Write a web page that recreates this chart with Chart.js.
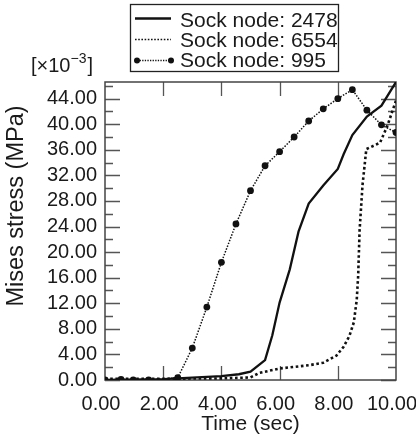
<!DOCTYPE html>
<html>
<head>
<meta charset="utf-8">
<script src="https://cdn.jsdelivr.net/npm/chart.js@4.4.0/dist/chart.umd.min.js"></script>
<style>
  html, body { margin: 0; padding: 0; background: #fff; }
  #chart { display: block; }
</style>
</head>
<body>
<canvas id="chart" width="416" height="441"></canvas>
<script>
// series (stress in units of 1e-3 MPa)
const seriesNames = ['Sock node: 2478', 'Sock node: 6554', 'Sock node: 995'];

const time2478 = [0, 2.0, 4.0, 4.6, 5.0, 5.5, 5.75, 6.0, 6.35, 6.65, 7.0, 7.5, 8.0, 8.2, 8.5, 9.0, 9.5, 10.0];
const stress2478 = [0, 0.15, 0.6, 0.9, 1.3, 3.1, 7.0, 12.1, 17.3, 23.2, 27.6, 30.4, 33.0, 35.3, 38.3, 41.2, 42.9, 46.6];

const time6554 = [0, 2.0, 4.0, 5.0, 5.3, 6.0, 7.0, 7.5, 7.95, 8.2, 8.4, 8.55, 8.65, 8.7, 8.75, 8.85, 8.98, 9.45, 9.7, 10.0];
const stress6554 = [0.2, 0.2, 0.25, 0.4, 1.1, 1.8, 2.3, 2.7, 3.8, 5.2, 6.9, 9.0, 12.5, 16.3, 23.5, 30.5, 36.1, 37.1, 39.7, 43.7];

const time995 = [0, 0.55, 0.97, 1.5, 2.5, 3.0, 3.5, 4.0, 4.5, 5.0, 5.5, 6.0, 6.5, 7.0, 7.5, 8.0, 8.5, 9.0, 9.5, 10.0];
const stress995 = [0, 0.1, 0, 0, 0.35, 5.0, 11.4, 18.4, 24.4, 29.6, 33.5, 35.7, 38.0, 40.5, 42.4, 44.0, 45.4, 42.2, 39.9, 38.7];

const xTicks = [0, 2, 4, 6, 8, 10];
const yTicks = [0, 4, 8, 12, 16, 20, 24, 28, 32, 36, 40, 44];
const yMinorTicks = [2, 6, 10, 14, 18, 22, 26, 30, 34, 38, 42, 46];

const FONT = "'Liberation Sans', Arial, Helvetica, sans-serif";
const INK = '#1a1a1a';

function toPoints(xs, ys) {
    return xs.map((x, i) => ({ x: x, y: ys[i] }));
}

// box, inward ticks
const framePlugin = {
    id: 'frame',
    beforeDatasetsDraw(chart) {
        const ctx = chart.ctx;
        const a = chart.chartArea;
        const xs = chart.scales.x;
        const ys = chart.scales.y;
        ctx.save();
        ctx.strokeStyle = '#555';
        ctx.lineWidth = 1.3;
        yTicks.forEach(v => {
            const py = Math.round(ys.getPixelForValue(v)) + 0.5;
            ctx.beginPath();
            ctx.moveTo(a.left, py); ctx.lineTo(a.left + 15, py);
            ctx.moveTo(a.right, py); ctx.lineTo(a.right - 15, py);
            ctx.stroke();
        });
        yMinorTicks.forEach(v => {
            const py = Math.round(ys.getPixelForValue(v)) + 0.5;
            ctx.beginPath();
            ctx.moveTo(a.left, py); ctx.lineTo(a.left + 8, py);
            ctx.moveTo(a.right, py); ctx.lineTo(a.right - 8, py);
            ctx.stroke();
        });
        xTicks.slice(1, -1).forEach(v => {
            const px = Math.round(xs.getPixelForValue(v)) + 0.5;
            ctx.beginPath();
            ctx.moveTo(px, a.bottom); ctx.lineTo(px, a.bottom - 14);
            ctx.moveTo(px, a.top); ctx.lineTo(px, a.top + 14);
            ctx.stroke();
        });
        ctx.strokeStyle = '#444';
        ctx.lineWidth = 1.5;
        ctx.strokeRect(a.left, a.top, a.right - a.left, a.bottom - a.top);
        ctx.restore();
    },
    afterDraw(chart) {
        const ctx = chart.ctx;
        const ds = chart.data.datasets;
        ctx.save();

        // y axis title
        ctx.fillStyle = INK;
        ctx.font = '23.5px ' + FONT;
        ctx.textAlign = 'center';
        ctx.textBaseline = 'middle';
        ctx.translate(17, 206);
        ctx.rotate(-Math.PI / 2);
        ctx.fillText('Mises stress (MPa)', 0, 0);
        ctx.setTransform(1, 0, 0, 1, 0, 0);

        // exponent note
        ctx.textAlign = 'left';
        ctx.textBaseline = 'alphabetic';
        let x = 31;
        ctx.font = '20px ' + FONT;
        ctx.fillText('[\u00d710', x, 72);
        x += ctx.measureText('[\u00d710').width;
        ctx.font = '14px ' + FONT;
        ctx.fillText('\u22123', x, 63);
        x += ctx.measureText('\u22123').width;
        ctx.font = '20px ' + FONT;
        ctx.fillText(']', x + 1, 72);

        // legend
        ctx.strokeStyle = '#222';
        ctx.lineWidth = 1.3;
        ctx.strokeRect(130.5, 4.5, 208, 67);
        const rows = [18.5, 39.5, 60.5];
        const textRows = [26.7, 46.7, 66.7];
        ctx.font = '21px ' + FONT;
        ctx.fillStyle = INK;
        textRows.forEach((ty, i) => {
            ctx.fillText(seriesNames[i], 180, ty);
        });
        // solid
        ctx.setLineDash([]);
        ctx.strokeStyle = ds[0].borderColor;
        ctx.lineWidth = 2.5;
        ctx.beginPath(); ctx.moveTo(135, rows[0]); ctx.lineTo(171, rows[0]); ctx.stroke();
        // dotted
        ctx.strokeStyle = ds[1].borderColor;
        ctx.lineWidth = 1.6;
        ctx.setLineDash([1.6, 1.6]);
        ctx.beginPath(); ctx.moveTo(135, rows[1]); ctx.lineTo(171, rows[1]); ctx.stroke();
        // dotted with markers
        ctx.strokeStyle = ds[2].borderColor;
        ctx.lineWidth = 1.3;
        ctx.setLineDash([1.3, 1.3]);
        ctx.beginPath(); ctx.moveTo(137, rows[2]); ctx.lineTo(171, rows[2]); ctx.stroke();
        ctx.setLineDash([]);
        ctx.fillStyle = ds[2].pointBackgroundColor;
        [137, 171].forEach(px => {
            ctx.beginPath(); ctx.arc(px, rows[2], 3, 0, Math.PI * 2); ctx.fill();
        });
        ctx.restore();
    }
};

const chart = new Chart(document.getElementById('chart').getContext('2d'), {
    type: 'line',
    data: {
        datasets: [
            {
                label: seriesNames[0],
                data: toPoints(time2478, stress2478),
                borderColor: '#111',
                borderWidth: 2.3,
                pointRadius: 0,
                tension: 0
            },
            {
                label: seriesNames[1],
                data: toPoints(time6554, stress6554),
                borderColor: '#111',
                borderWidth: 2.6,
                borderDash: [2.6, 2.6],
                pointRadius: 0,
                tension: 0
            },
            {
                label: seriesNames[2],
                data: toPoints(time995, stress995),
                borderColor: '#111',
                borderWidth: 1.5,
                borderDash: [1.5, 1.5],
                pointRadius: 3.4,
                pointBackgroundColor: '#111',
                pointBorderWidth: 0,
                tension: 0
            }
        ]
    },
    options: {
        responsive: false,
        animation: false,
        events: [],
        layout: { padding: { top: 82, right: 20, left: 0, bottom: 0 } },
        plugins: {
            legend: { display: false },
            tooltip: { enabled: false }
        },
        scales: {
            x: {
                type: 'linear',
                min: 0,
                max: 10,
                afterBuildTicks: s => { s.ticks = xTicks.map(v => ({ value: v })); },
                ticks: {
                    callback: v => v.toFixed(2),
                    font: { size: 20, family: FONT },
                    color: INK,
                    padding: 12,
                    labelOffset: -4,
                    maxRotation: 0,
                    autoSkip: false
                },
                grid: { display: false, drawTicks: false },
                border: { display: false },
                title: {
                    display: true,
                    text: 'Time (sec)',
                    font: { size: 21, family: FONT },
                    color: INK,
                    padding: { top: 0, bottom: 4 }
                },
                afterFit: s => { s.height = 61; s.paddingLeft = 0; s.paddingRight = 0; }
            },
            y: {
                type: 'linear',
                min: 0,
                max: 46.6,
                afterBuildTicks: s => { s.ticks = yTicks.map(v => ({ value: v })); },
                ticks: {
                    callback: v => v.toFixed(2),
                    font: { size: 20, family: FONT },
                    color: INK,
                    padding: 8,
                    autoSkip: false
                },
                grid: { display: false, drawTicks: false },
                border: { display: false },
                afterFit: s => { s.width = 105; }
            }
        }
    },
    plugins: [framePlugin]
});
</script>
</body>
</html>
